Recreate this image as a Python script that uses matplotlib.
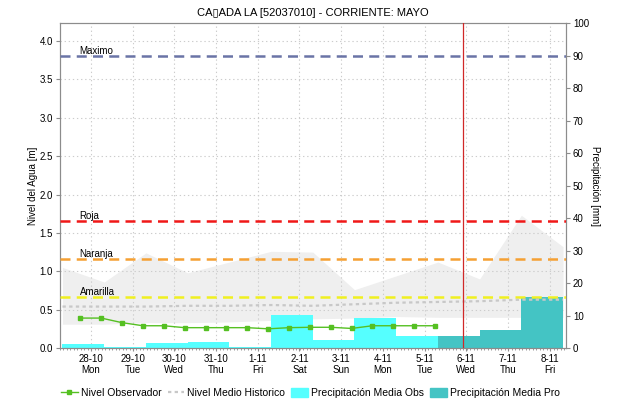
import numpy as np
import matplotlib.pyplot as plt
from matplotlib.lines import Line2D
from matplotlib.patches import Patch

plt.rcParams['font.family'] = ['Liberation Sans', 'DejaVu Sans']

# day ticks
day_labels = ["28-10\nMon", "29-10\nTue", "30-10\nWed", "31-10\nThu", "1-11\nFri", "2-11\nSat",
              "3-11\nSun", "4-11\nMon", "5-11\nTue", "6-11\nWed", "7-11\nThu", "8-11\nFri"]
days = np.arange(len(day_labels))

# observed level every 12 h [m]
obs_x = np.arange(-0.25, 8.26, 0.5)
obs_level = [0.39, 0.39, 0.33, 0.29, 0.29, 0.265, 0.265, 0.265, 0.265, 0.25,
             0.265, 0.27, 0.27, 0.255, 0.29, 0.29, 0.29, 0.29]

# historic range and mean level [m], daily
hist_x = np.arange(-1, 12) + 0.32
hist_low = [0.31, 0.31, 0.33, 0.33, 0.34, 0.36, 0.38, 0.39, 0.41, 0.40, 0.40, 0.40, 0.40]
hist_high = [1.05, 0.86, 1.24, 0.98, 1.12, 1.26, 1.25, 0.76, 0.94, 1.12, 0.90, 1.73, 1.32]
hist_mean = [0.54, 0.54, 0.54, 0.55, 0.55, 0.56, 0.55, 0.57, 0.59, 0.60, 0.61, 0.63, 0.63]

# daily rainfall [mm]
rain_obs_days = days[:9]
rain_obs = [1.2, 0.3, 1.4, 1.8, 0.4, 10.1, 2.4, 9.3, 3.6]
rain_pro_days = days[9:]
rain_pro = [3.6, 5.4, 15.6]

# alert levels [m]
alert_names = ["Maximo", "Roja", "Naranja", "Amarilla"]
alert_values = [3.80, 1.65, 1.155, 0.66]
alert_colors = ["#6a74a6", "#f01818", "#f5a033", "#f0f020"]

now_x = 8.91

fig = plt.figure(figsize=(6.21, 4.04), dpi=100)
ax_mm = fig.add_axes([0.0966, 0.1386, 0.8148, 0.8044])
ax = ax_mm.twinx()
ax.patch.set_visible(False)

xlim = (-0.74, 11.39)
ax_mm.set_xlim(*xlim)
ax_mm.set_ylim(0, 100)
ax.set_ylim(0, 4.235)

# historic band under the bars
ax_mm.fill_between(hist_x, hist_low, hist_high, color="#efefef", lw=0,
                   transform=ax.transData, zorder=1)

# grid
grid_kw = dict(color="#cccccc", ls=(0, (1.2, 2.5)), lw=0.8, zorder=1.5)
ax_mm.grid(axis='x', **grid_kw)
ax_mm.hlines(np.arange(0.5, 4.1, 0.5), xlim[0], xlim[1], transform=ax.transData, **grid_kw)

# rainfall bars
ax_mm.bar(rain_obs_days - 0.68, rain_obs, width=1.0, align='edge', color="#55ffff", lw=0, zorder=2)
ax_mm.bar(rain_pro_days - 0.68, rain_pro, width=1.0, align='edge', color="#44c4c4", lw=0, zorder=2)

# alert lines
for name, val, col in zip(alert_names, alert_values, alert_colors):
    ax.axhline(val, color=col, ls=(0, (4, 2.5)), lw=1.8, zorder=3)
    ax.text(-0.27, val + 0.01, name, fontsize=7, va='bottom', ha='left', zorder=4)

ax.plot(hist_x, hist_mean, color="#c8c8c8", ls=(0, (1.5, 1.5)), lw=1.6, zorder=3.5)
ax.plot(obs_x, obs_level, color="#55c022", lw=1.0, marker='s', ms=2.3, zorder=5)
ax.axvline(now_x, color="#d02828", lw=0.9, zorder=6)

# axes styling
ax.yaxis.tick_left()
ax.yaxis.set_label_position('left')
ax_mm.yaxis.tick_right()
ax_mm.yaxis.set_label_position('right')
ax.set_yticks(np.arange(0, 4.01, 0.5))
ax.set_yticklabels([f"{v:.1f}" for v in np.arange(0, 4.01, 0.5)])
ax_mm.set_yticks(np.arange(0, 101, 10))
ax_mm.set_xticks(days)
ax_mm.set_xticklabels(day_labels)
ax_mm.set_xticks(np.arange(-0.74, 11.39, 1 / 12), minor=True)

for a in (ax, ax_mm):
    for sp in a.spines.values():
        sp.set_color("#8c8c8c")
    a.tick_params(labelsize=7, length=3, width=0.8, color="#8c8c8c", pad=2)
ax_mm.tick_params(axis='x', which='minor', length=1.5, width=0.6, color="#8c8c8c")
ax_mm.tick_params(axis='x', length=2)

ax.set_ylabel("Nivel del Agua [m]", fontsize=7, labelpad=1)
ax_mm.set_ylabel("Precipitación [mm]", fontsize=7, rotation=270, labelpad=8)
ax_mm.set_title("CA\u25afADA LA [52037010] - CORRIENTE: MAYO", fontsize=8, pad=5)

handles = [
    Line2D([], [], color="#55c022", lw=1.0, marker='s', ms=2.5),
    Line2D([], [], color="#c8c8c8", ls=(0, (1.5, 1.5)), lw=1.6),
    Patch(color="#55ffff"),
    Patch(color="#44c4c4"),
]
labels = ["Nivel Observador", "Nivel Medio Historico", "Precipitación Media Obs", "Precipitación Media Pro"]
fig.legend(handles, labels, loc='center', bbox_to_anchor=(0.5, 0.027), ncol=4, frameon=False,
           fontsize=7.5, handlelength=1.6, handleheight=1.0, handletextpad=0.3, columnspacing=0.6)

fig.savefig("out.png", dpi=100)
